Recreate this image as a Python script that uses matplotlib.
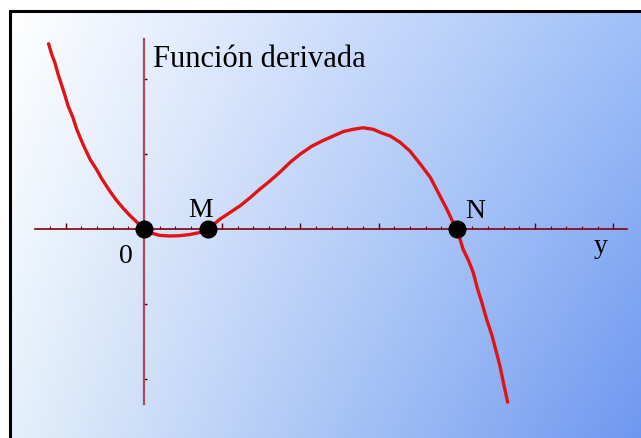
import numpy as np
import matplotlib
matplotlib.use('Agg')
import matplotlib.pyplot as plt
from matplotlib.patches import Rectangle

# curve (x, y in axis units)
curve_x = [-1.22, -1.18, -1.14, -1.10, -1.05, -1.01, -0.97, -0.91, -0.86, -0.78,
           -0.69, -0.61, -0.54, -0.44, -0.35, -0.26, -0.18, -0.09, 0.0,
           0.08, 0.20, 0.33, 0.45, 0.58, 0.72, 0.82,
           0.97, 1.10, 1.23, 1.36, 1.48, 1.61, 1.74, 1.87, 2.0, 2.14, 2.29,
           2.42, 2.55, 2.68, 2.80, 2.93, 3.04, 3.15, 3.27, 3.40, 3.53, 3.66,
           3.76, 3.87, 3.96, 4.0,
           4.04, 4.08, 4.15, 4.21, 4.26, 4.32, 4.38, 4.45, 4.50, 4.55, 4.60, 4.65]
curve_y = [2.47, 2.33, 2.22, 2.07, 1.91, 1.78, 1.64, 1.49, 1.33, 1.13,
           0.93, 0.80, 0.67, 0.51, 0.38, 0.27, 0.18, 0.09, 0.0,
           -0.05, -0.085, -0.093, -0.09, -0.075, -0.045, 0.0,
           0.13, 0.22, 0.31, 0.42, 0.53, 0.64, 0.76, 0.89, 1.0, 1.10, 1.18,
           1.24, 1.30, 1.33, 1.35, 1.33, 1.28, 1.24, 1.16, 1.04, 0.87, 0.69,
           0.49, 0.27, 0.07, 0.0,
           -0.13, -0.27, -0.42, -0.58, -0.78, -0.98, -1.20, -1.42, -1.62, -1.82, -2.07, -2.31]

# marked points
point_x = [0.0, 0.82, 4.0]
point_y = [0.0, 0.0, 0.0]
point_labels = ['0', 'M', 'N']

title = 'Función derivada'

fig = plt.figure(figsize=(6.41, 4.39), dpi=100)
ax = fig.add_axes([0, 0, 1, 1])
ax.set_xlim(-1.841, 6.355)
ax.set_ylim(-2.787, 3.067)

# background: white top-left to blue bottom-right, inside the black frame
bx0 = 9.5 / 641
by1 = 1 - 11.5 / 439
u = np.linspace(0, 1, 300)[None, :, None]
v = np.linspace(0, 1, 300)[:, None, None]  # 0 = top
tl = np.array([255, 255, 255]) / 255
tr = np.array([160, 192, 248]) / 255
bl = np.array([228, 240, 250]) / 255
br = np.array([110, 152, 240]) / 255
grad = (1 - u) * (1 - v) * tl + u * (1 - v) * tr + (1 - u) * v * bl + u * v * br
ax.imshow(grad, extent=[bx0, 1, 0, by1], transform=ax.transAxes,
          aspect='auto', zorder=0, origin='upper')
ax.add_patch(Rectangle((bx0, -0.1), 1.2, by1 + 0.1, transform=ax.transAxes,
                       fill=False, edgecolor='black', linewidth=2.2, zorder=1,
                       clip_on=False))

# axes through the origin
ax.spines['top'].set_visible(False)
ax.spines['right'].set_visible(False)
ax.spines['bottom'].set_position(('data', 0))
ax.spines['left'].set_position(('data', 0))
ax.spines['bottom'].set_bounds(-1.39, 6.18)
ax.spines['left'].set_bounds(-2.33, 2.53)
ax.spines['bottom'].set_color('#800010')
ax.spines['bottom'].set_linewidth(1.2)
ax.spines['left'].set_color('#b04858')
ax.spines['left'].set_linewidth(1.6)
ax.spines['bottom'].set_zorder(2)
ax.spines['left'].set_zorder(2)

ax.set_xticks([-1, 1, 2, 3, 4, 5, 6])
ax.set_xticks(np.arange(-1.2, 6.05, 0.2), minor=True)
ax.set_yticks([-2, -1, 1, 2])
ax.set_yticks([], minor=True)
ax.tick_params(axis='x', which='major', direction='in', length=4, width=1,
               color='#600010', labelbottom=False)
ax.tick_params(axis='x', which='minor', direction='in', length=2, width=0.8,
               color='#600010')
ax.tick_params(axis='y', which='major', direction='in', length=2.5, width=1,
               color='#400010', labelleft=False)

# curve and points
ax.plot(curve_x, curve_y, color='#e01414', linewidth=2.4, zorder=3,
        solid_capstyle='round', solid_joinstyle='round')
ax.plot(point_x, point_y, 'o', color='black', markersize=12, zorder=4)

font = dict(family='Liberation Serif', color='black')
ax.text(0.115, 2.173, title, fontsize=22, ha='left', va='baseline', **font)
label_pos = [(-0.23, -0.44), (0.72, 0.173), (4.23, 0.16)]
for lab, (lx, ly) in zip(point_labels, label_pos):
    ax.text(lx, ly, lab, fontsize=20, ha='center', va='baseline', **font)
ax.text(5.84, -0.307, 'y', fontsize=20, ha='center', va='baseline', **font)

fig.savefig('out.png', dpi=100)
